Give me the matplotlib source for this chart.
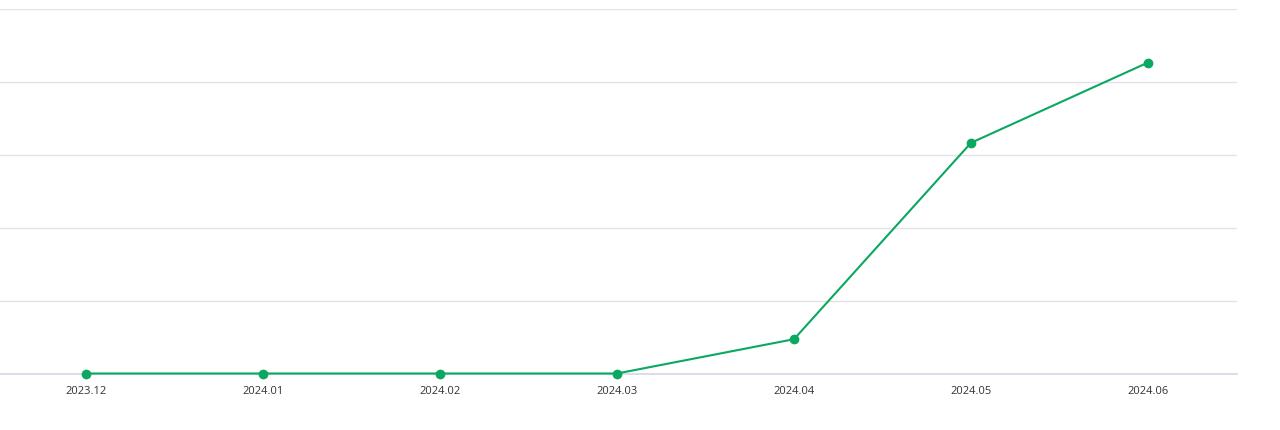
import matplotlib
matplotlib.use("Agg")
import matplotlib.pyplot as plt

categories = ["2023.12", "2024.01", "2024.02", "2024.03", "2024.04", "2024.05", "2024.06"]
values = [0, 0, 0, 0, 0.47, 3.16, 4.26]

fig = plt.figure(figsize=(12.8, 4.31), dpi=100)
left_px, right_px = -2.5, 1236.5
top_px, bottom_px = 9.5, 374.5
ax = fig.add_axes([left_px / 1280, 1 - bottom_px / 431,
                   (right_px - left_px) / 1280, (bottom_px - top_px) / 431])

x = list(range(len(categories)))
ax.plot(x, values, color="#0aa860", linewidth=1.5, marker="o", markersize=6,
        markerfacecolor="#0aa860", markeredgecolor="#0aa860", zorder=3, clip_on=False)

ax.set_xlim(-0.5, len(categories) - 0.5)
ax.set_ylim(0, 5)
ax.set_yticks([0, 1, 2, 3, 4, 5])
ax.set_yticklabels([])
ax.tick_params(axis="y", length=0)
ax.grid(axis="y", color="#e2e2e6", linewidth=1)
ax.set_axisbelow(True)

ax.set_xticks(x)
ax.set_xticklabels(categories, fontsize=8, color="#333333", family="Open Sans")
ax.tick_params(axis="x", length=0, pad=8)

for s in ["top", "left", "right"]:
    ax.spines[s].set_visible(False)
ax.spines["bottom"].set_color("#d3d8e6")
ax.spines["bottom"].set_linewidth(1.2)

fig.savefig("out.png", dpi=100)
